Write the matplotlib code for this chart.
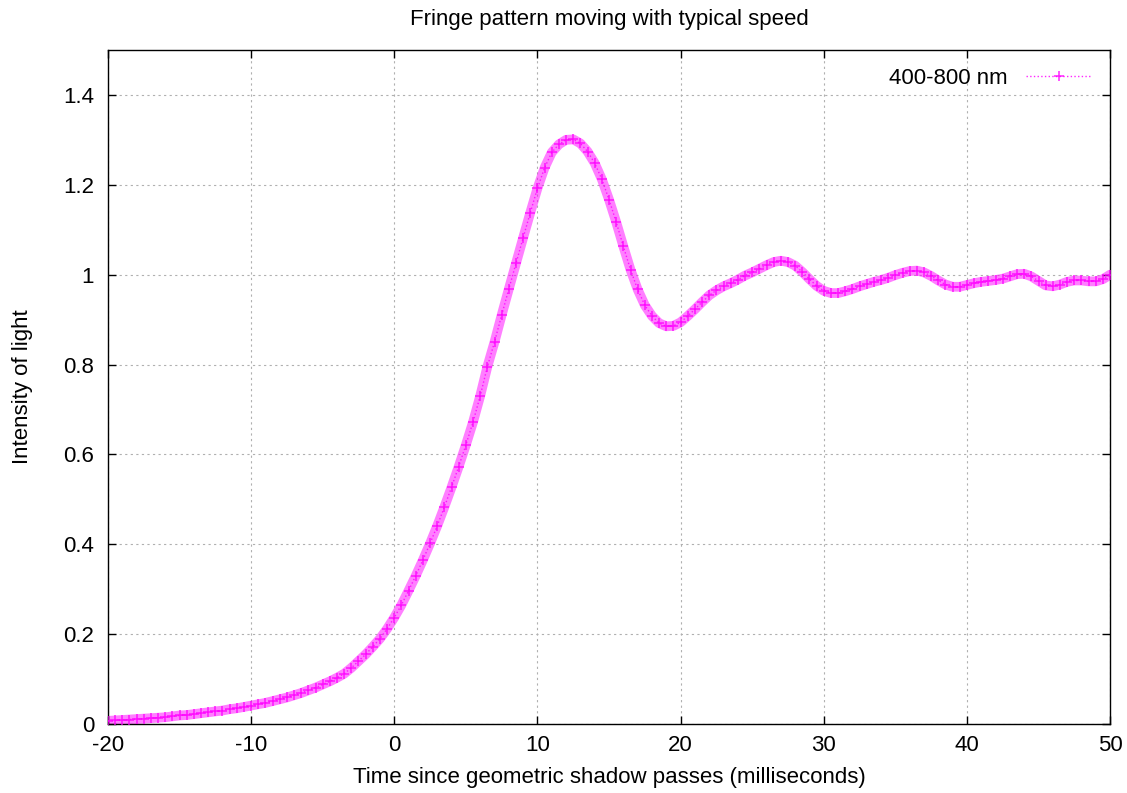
import numpy as np
import matplotlib
matplotlib.use("Agg")
import matplotlib.pyplot as plt

# time axis in ms, sampled every 0.5 ms
time_ms = np.arange(-20, 50.01, 0.5)

# light intensity
intensity = [
    0.007, 0.008, 0.009, 0.010, 0.011, 0.012, 0.013, 0.014, 0.015, 0.017,   # -20 .. -15.5
    0.019, 0.020, 0.022, 0.024, 0.026, 0.028, 0.030, 0.033, 0.035, 0.038,   # -15 .. -10.5
    0.041, 0.044, 0.047, 0.051, 0.055, 0.059, 0.064, 0.069, 0.075, 0.081,   # -10 .. -5.5
    0.088, 0.095, 0.103, 0.112, 0.125, 0.140, 0.155, 0.172, 0.190, 0.212,   # -5 .. -0.5
    0.237, 0.265, 0.297, 0.330, 0.365, 0.402, 0.441, 0.483, 0.527, 0.573,   # 0 .. 4.5
    0.621, 0.672, 0.730, 0.795, 0.850, 0.910, 0.968, 1.025, 1.082, 1.138,   # 5 .. 9.5
    1.192, 1.238, 1.272, 1.290, 1.300, 1.301, 1.292, 1.274, 1.248, 1.212,   # 10 .. 14.5
    1.167, 1.117, 1.063, 1.011, 0.967, 0.932, 0.908, 0.892, 0.885, 0.886,   # 15 .. 19.5
    0.894, 0.908, 0.923, 0.939, 0.954, 0.965, 0.974, 0.981, 0.989, 0.998,   # 20 .. 24.5
    1.005, 1.013, 1.021, 1.028, 1.031, 1.028, 1.020, 1.006, 0.990, 0.975,   # 25 .. 29.5
    0.964, 0.959, 0.959, 0.963, 0.968, 0.974, 0.979, 0.984, 0.988, 0.993,   # 30 .. 34.5
    0.999, 1.004, 1.008, 1.009, 1.005, 0.997, 0.987, 0.978, 0.973, 0.973,   # 35 .. 39.5
    0.977, 0.981, 0.984, 0.986, 0.988, 0.991, 0.996, 1.001, 1.002, 0.996,   # 40 .. 44.5
    0.986, 0.976, 0.974, 0.978, 0.984, 0.987, 0.987, 0.985, 0.985, 0.990,   # 45 .. 49.5
    1.000,                                                                  # 50
]

x_ticks = [-20, -10, 0, 10, 20, 30, 40, 50]
y_ticks = [0, 0.2, 0.4, 0.6, 0.8, 1, 1.2, 1.4]
y_tick_labels = ["0", "0.2", "0.4", "0.6", "0.8", "1", "1.2", "1.4"]

plt.rcParams["font.family"] = ["Liberation Sans", "DejaVu Sans"]
plt.rcParams["axes.unicode_minus"] = False

fig = plt.figure(figsize=(11.27, 7.93), dpi=100)
ax = fig.add_axes([0.0958, 0.087, 0.8892, 0.8500])

magenta = "#ff00ff"
# soft band behind the markers (the reference markers overlap into a band)
ax.plot(time_ms, intensity, color=magenta, lw=7, alpha=0.5,
        solid_capstyle="round", zorder=2)
ax.plot(time_ms, intensity, color=magenta, ls=":", lw=1,
        marker="+", markersize=7, markeredgewidth=1.1, alpha=0.85,
        label="400-800 nm", zorder=3)

ax.set_xlim(-20, 50)
ax.set_ylim(0, 1.5)
ax.set_xticks(x_ticks)
ax.set_yticks(y_ticks)
ax.set_yticklabels(y_tick_labels)
ax.tick_params(direction="in", length=6, width=1, top=True, right=True,
               labelsize=16)
ax.tick_params(axis="x", pad=8)
ax.tick_params(axis="y", pad=10)
ax.grid(True, color="#b0b0b0", ls=(0, (2, 3)), lw=0.8)
for s in ax.spines.values():
    s.set_linewidth(1)

ax.set_title("Fringe pattern moving with typical speed", fontsize=16, pad=18)
ax.set_xlabel("Time since geometric shadow passes (milliseconds)", fontsize=16,
              labelpad=8)
ax.set_ylabel("Intensity of light", fontsize=16, labelpad=22)

ax.legend(loc="upper right", frameon=False, fontsize=16, markerfirst=False,
          handlelength=3, borderaxespad=0.4)

fig.savefig("out.png", dpi=100)
